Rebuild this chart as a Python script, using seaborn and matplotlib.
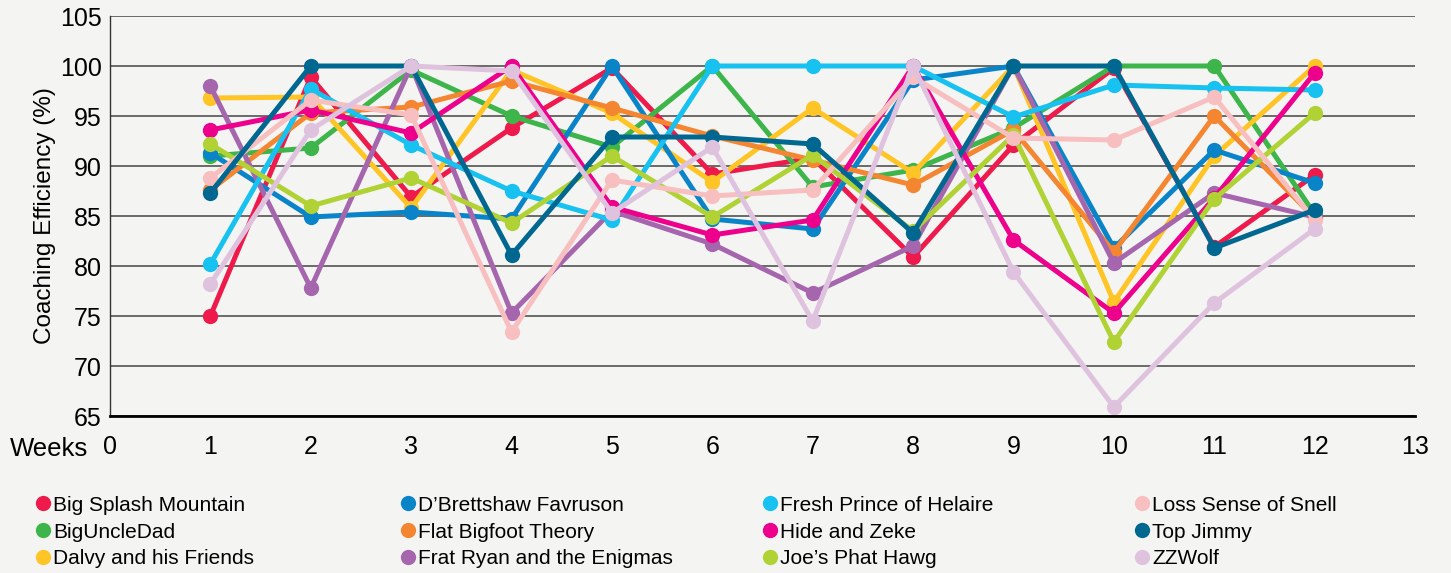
import pandas as pd
import matplotlib.pyplot as plt
import seaborn as sns
from matplotlib.lines import Line2D

weeks = list(range(1, 13))

teams = [
    "Big Splash Mountain", "BigUncleDad", "Dalvy and his Friends",
    "D\u2019Brettshaw Favruson", "Flat Bigfoot Theory", "Frat Ryan and the Enigmas",
    "Fresh Prince of Helaire", "Hide and Zeke", "Joe\u2019s Phat Hawg",
    "Loss Sense of Snell", "Top Jimmy", "ZZWolf",
]

colors = [
    "#ed1a4b", "#3db54a", "#ffc425",
    "#0a84c8", "#f58631", "#a566ad",
    "#17c1f0", "#ec008c", "#b0d235",
    "#f7bfbf", "#006890", "#dfc3de",
]

big_splash = [75.0, 98.9, 86.9, 93.8, 99.8, 89.2, 90.8, 80.9, 92.1, 99.8, 81.9, 89.1]
big_uncle = [91.0, 91.8, 99.6, 95.0, 91.9, 100.0, 87.9, 89.6, 93.8, 100.0, 100.0, 85.2]
dalvy = [96.8, 96.9, 85.8, 99.6, 95.3, 88.4, 95.8, 89.3, 100.0, 76.4, 91.0, 100.0]
dbrettshaw = [91.3, 84.9, 85.4, 84.7, 100.0, 84.7, 83.7, 98.6, 100.0, 81.8, 91.6, 88.3]
flat_bigfoot = [87.6, 95.3, 95.9, 98.5, 95.8, 93.0, 90.6, 88.1, 93.6, 81.4, 95.0, 84.8]
frat_ryan = [98.0, 77.8, 100.0, 75.3, 85.5, 82.2, 77.3, 82.0, 100.0, 80.3, 87.3, 84.9]
fresh_prince = [80.2, 97.7, 92.1, 87.5, 84.6, 100.0, 100.0, 100.0, 94.9, 98.1, 97.8, 97.6]
hide_zeke = [93.6, 95.6, 93.3, 100.0, 85.9, 83.1, 84.6, 100.0, 82.6, 75.3, 86.8, 99.3]
joes_hawg = [92.2, 86.0, 88.8, 84.3, 91.0, 84.9, 91.1, 83.5, 93.1, 72.4, 86.7, 95.3]
loss_sense = [88.8, 96.6, 95.1, 73.4, 88.6, 87.0, 87.6, 98.9, 92.8, 92.6, 96.9, 84.6]
top_jimmy = [87.3, 100.0, 100.0, 81.1, 92.9, 92.9, 92.2, 83.3, 100.0, 100.0, 81.8, 85.6]
zzwolf = [78.2, 93.6, 100.0, 99.5, 85.3, 91.9, 74.5, 100.0, 79.4, 65.9, 76.3, 83.7]

series = [big_splash, big_uncle, dalvy, dbrettshaw, flat_bigfoot, frat_ryan,
          fresh_prince, hide_zeke, joes_hawg, loss_sense, top_jimmy, zzwolf]

rows = []
for team, vals in zip(teams, series):
    for w, v in zip(weeks, vals):
        rows.append({"team": team, "week": w, "eff": v})
df = pd.DataFrame(rows)

sns.set_style("white")
plt.rcParams['font.family'] = ['Liberation Sans', 'DejaVu Sans']
plt.rcParams['text.color'] = 'black'
plt.rcParams['axes.labelcolor'] = 'black'
plt.rcParams['xtick.color'] = 'black'
plt.rcParams['ytick.color'] = 'black'
bg = "#f4f4f2"

fig = plt.figure(figsize=(14.51, 5.73), dpi=100, facecolor=bg)
ax = fig.add_axes([110 / 1451, 157 / 573, 1305 / 1451, 400 / 573])
ax.set_facecolor(bg)

sns.lineplot(data=df, x="week", y="eff", hue="team", hue_order=teams,
             palette=dict(zip(teams, colors)), marker="o", markersize=11,
             markeredgewidth=0, linewidth=3.6, legend=False, ax=ax)

ax.set_xlim(0, 13)
ax.set_ylim(65, 105)
ax.set_xticks(range(0, 14))
ax.set_yticks(range(65, 106, 5))
ax.yaxis.grid(True, color="#444444", linewidth=1.1)
ax.xaxis.grid(False)
ax.set_axisbelow(True)

for side in ["top", "right"]:
    ax.spines[side].set_visible(False)
ax.spines["left"].set_color("#333333")
ax.spines["left"].set_linewidth(1.0)
ax.spines["bottom"].set_color("black")
ax.spines["bottom"].set_linewidth(2.0)

ax.tick_params(axis="y", length=0, pad=6, labelsize=18)
ax.tick_params(axis="x", length=9, width=2, color="black", direction="out",
               pad=5, labelsize=18)

ax.set_ylabel("Coaching Efficiency (%)", fontsize=17.5, labelpad=3)
ax.set_xlabel("Weeks", fontsize=18.5, ha="right")
ax.xaxis.set_label_coords(-0.0165, -0.052)
ax.xaxis.label.set_va("top")

handles = [Line2D([], [], linestyle="none", marker="o", markersize=11,
                  markeredgewidth=0, color=c) for c in colors]
col_x = [20, 385, 747, 1119]
for i, x in enumerate(col_x):
    fig.legend(handles[i * 3:(i + 1) * 3], teams[i * 3:(i + 1) * 3],
               loc="upper left", bbox_to_anchor=(x / 1451, 1 - 481 / 573),
               frameon=False, fontsize=15, handlelength=0.8,
               handletextpad=0.1, labelspacing=0.38, borderpad=0.2)

fig.savefig("out.png", dpi=100, facecolor=bg)
